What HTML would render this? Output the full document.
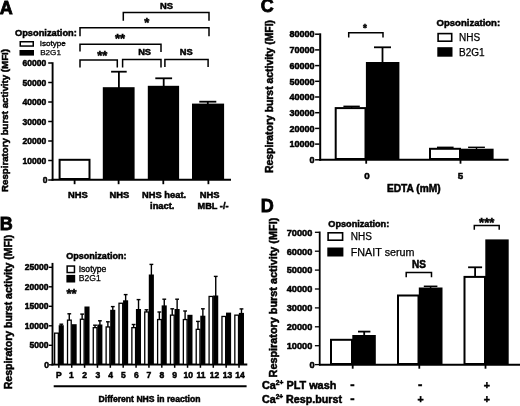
<!DOCTYPE html>
<html lang="en">
<head>
<meta charset="utf-8">
<title>Figure</title>
<style>
html,body{margin:0;padding:0;background:#fff;}
svg{display:block;font-family:"Liberation Sans", Arial, sans-serif;filter:blur(0.45px);}
text{fill:#000;}
text[font-weight=bold]{stroke:#000;stroke-width:0.5px;}
</style>
</head>
<body>
<svg width="520" height="406" viewBox="0 0 520 406">
<rect x="0" y="0" width="520" height="406" fill="#fff"/>
<text x="-0.30" y="13.90" font-size="18" font-weight="bold" text-anchor="start" style="stroke-width:0.8px">A</text>
<text x="15.00" y="35.80" font-size="9.3" font-weight="bold" text-anchor="start" textLength="61.8" lengthAdjust="spacingAndGlyphs">Opsonization:</text>
<rect x="20.25" y="41.75" width="13.00" height="4.30" fill="#fff" stroke="#000" stroke-width="1.5"/>
<rect x="19.50" y="50.00" width="14.50" height="5.60" fill="#000"/>
<text x="39.70" y="46.30" font-size="8.1" font-weight="normal" text-anchor="start" stroke="#000" stroke-width="0.35">Isotype</text>
<text x="40.20" y="55.20" font-size="8.1" font-weight="normal" text-anchor="start" stroke="#000" stroke-width="0.25">B2G1</text>
<text transform="translate(7.70,120.50) rotate(-90)" font-size="9.5" font-weight="bold" text-anchor="middle" textLength="143" lengthAdjust="spacingAndGlyphs">Respiratory burst activity (MFI)</text>
<line x1="52.60" y1="62.20" x2="52.60" y2="180.80" stroke="#000" stroke-width="1.9"/>
<line x1="51.60" y1="179.80" x2="231.00" y2="179.80" stroke="#000" stroke-width="2"/>
<line x1="48.20" y1="180.00" x2="52.00" y2="180.00" stroke="#000" stroke-width="1.5"/>
<text x="47.40" y="183.00" font-size="8.5" font-weight="bold" text-anchor="end">0</text>
<line x1="48.20" y1="160.50" x2="52.00" y2="160.50" stroke="#000" stroke-width="1.5"/>
<text x="46.20" y="163.50" font-size="8.5" font-weight="bold" text-anchor="end">10000</text>
<line x1="48.20" y1="141.00" x2="52.00" y2="141.00" stroke="#000" stroke-width="1.5"/>
<text x="46.20" y="144.00" font-size="8.5" font-weight="bold" text-anchor="end">20000</text>
<line x1="48.20" y1="121.50" x2="52.00" y2="121.50" stroke="#000" stroke-width="1.5"/>
<text x="46.20" y="124.50" font-size="8.5" font-weight="bold" text-anchor="end">30000</text>
<line x1="48.20" y1="102.00" x2="52.00" y2="102.00" stroke="#000" stroke-width="1.5"/>
<text x="46.20" y="105.00" font-size="8.5" font-weight="bold" text-anchor="end">40000</text>
<line x1="48.20" y1="82.50" x2="52.00" y2="82.50" stroke="#000" stroke-width="1.5"/>
<text x="46.20" y="85.50" font-size="8.5" font-weight="bold" text-anchor="end">50000</text>
<line x1="48.20" y1="63.00" x2="52.00" y2="63.00" stroke="#000" stroke-width="1.5"/>
<text x="46.20" y="66.00" font-size="8.5" font-weight="bold" text-anchor="end">60000</text>
<line x1="74.60" y1="180.00" x2="74.60" y2="184.20" stroke="#000" stroke-width="1.8"/>
<line x1="118.60" y1="180.00" x2="118.60" y2="184.20" stroke="#000" stroke-width="1.8"/>
<line x1="163.30" y1="180.00" x2="163.30" y2="184.20" stroke="#000" stroke-width="1.8"/>
<line x1="208.40" y1="180.00" x2="208.40" y2="184.20" stroke="#000" stroke-width="1.8"/>
<rect x="59.60" y="159.80" width="29.90" height="19.20" fill="#fff" stroke="#000" stroke-width="2"/>
<rect x="102.80" y="87.20" width="31.80" height="92.80" fill="#000"/>
<line x1="118.90" y1="71.70" x2="118.90" y2="88.00" stroke="#000" stroke-width="1.8"/>
<line x1="111.10" y1="71.70" x2="126.70" y2="71.70" stroke="#000" stroke-width="1.8"/>
<rect x="147.80" y="85.80" width="31.30" height="94.20" fill="#000"/>
<line x1="163.70" y1="78.30" x2="163.70" y2="87.00" stroke="#000" stroke-width="1.8"/>
<line x1="155.30" y1="78.30" x2="172.10" y2="78.30" stroke="#000" stroke-width="1.8"/>
<rect x="192.00" y="103.60" width="32.10" height="76.40" fill="#000"/>
<line x1="207.80" y1="101.70" x2="207.80" y2="104.00" stroke="#000" stroke-width="1.8"/>
<line x1="199.30" y1="101.70" x2="216.30" y2="101.70" stroke="#000" stroke-width="1.8"/>
<polyline points="123.30,20.80 123.30,12.40 209.00,12.40 209.00,20.80" fill="none" stroke="#000" stroke-width="1.5"/>
<polyline points="80.00,36.20 80.00,27.80 209.00,27.80 209.00,36.20" fill="none" stroke="#000" stroke-width="1.5"/>
<polyline points="80.00,51.40 80.00,44.20 161.00,44.20 161.00,52.00" fill="none" stroke="#000" stroke-width="1.5"/>
<polyline points="80.00,67.60 80.00,60.00 117.30,60.00 117.30,67.60" fill="none" stroke="#000" stroke-width="1.5"/>
<polyline points="122.60,67.40 122.60,59.50 161.00,59.50 161.00,67.40" fill="none" stroke="#000" stroke-width="1.5"/>
<polyline points="164.90,67.00 164.90,59.40 208.10,59.40 208.10,67.00" fill="none" stroke="#000" stroke-width="1.5"/>
<text x="166.50" y="8.80" font-size="9.4" font-weight="bold" text-anchor="middle">NS</text>
<text x="146.80" y="27.20" font-size="13" font-weight="bold" text-anchor="middle">*</text>
<text x="120.00" y="43.20" font-size="13" font-weight="bold" text-anchor="middle">**</text>
<text x="102.20" y="60.00" font-size="13" font-weight="bold" text-anchor="middle">**</text>
<text x="144.60" y="54.80" font-size="9.3" font-weight="bold" text-anchor="middle">NS</text>
<text x="186.20" y="55.00" font-size="9.3" font-weight="bold" text-anchor="middle">NS</text>
<text x="77.80" y="197.60" font-size="9.4" font-weight="bold" text-anchor="middle">NHS</text>
<text x="119.30" y="197.60" font-size="9.4" font-weight="bold" text-anchor="middle">NHS</text>
<text x="164.10" y="197.60" font-size="9.4" font-weight="bold" text-anchor="middle" textLength="44" lengthAdjust="spacingAndGlyphs">NHS heat.</text>
<text x="162.20" y="208.90" font-size="9.3" font-weight="bold" text-anchor="middle">inact.</text>
<text x="209.60" y="197.60" font-size="9.4" font-weight="bold" text-anchor="middle">NHS</text>
<text x="213.00" y="208.90" font-size="9.3" font-weight="bold" text-anchor="middle" textLength="31" lengthAdjust="spacingAndGlyphs">MBL -/-</text>
<text x="-0.30" y="230.10" font-size="18" font-weight="bold" text-anchor="start" style="stroke-width:0.8px">B</text>
<text transform="translate(11.90,312.00) rotate(-90)" font-size="10" font-weight="bold" text-anchor="middle" textLength="154.5" lengthAdjust="spacingAndGlyphs">Respiratory burst activity (MFI)</text>
<text x="66.20" y="258.60" font-size="9.3" font-weight="bold" text-anchor="start" textLength="60.3" lengthAdjust="spacingAndGlyphs">Opsonization:</text>
<rect x="67.15" y="266.05" width="7.30" height="6.50" fill="#fff" stroke="#000" stroke-width="1.5"/>
<rect x="66.40" y="274.90" width="8.80" height="7.60" fill="#000"/>
<text x="78.70" y="271.60" font-size="8.6" font-weight="normal" text-anchor="start" stroke="#000" stroke-width="0.35">Isotype</text>
<text x="78.70" y="281.40" font-size="8.6" font-weight="normal" text-anchor="start" stroke="#000" stroke-width="0.25">B2G1</text>
<text x="66.40" y="298.30" font-size="13" font-weight="bold" text-anchor="start">**</text>
<line x1="52.50" y1="262.90" x2="52.50" y2="365.50" stroke="#000" stroke-width="1.9"/>
<line x1="51.60" y1="364.60" x2="247.30" y2="364.60" stroke="#000" stroke-width="2"/>
<line x1="48.80" y1="364.80" x2="52.00" y2="364.80" stroke="#000" stroke-width="1.4"/>
<text x="49.10" y="367.80" font-size="8.5" font-weight="bold" text-anchor="end">0</text>
<line x1="48.80" y1="345.30" x2="52.00" y2="345.30" stroke="#000" stroke-width="1.4"/>
<text x="48.40" y="348.30" font-size="8.5" font-weight="bold" text-anchor="end">5000</text>
<line x1="48.80" y1="325.80" x2="52.00" y2="325.80" stroke="#000" stroke-width="1.4"/>
<text x="48.40" y="328.80" font-size="8.5" font-weight="bold" text-anchor="end">10000</text>
<line x1="48.80" y1="306.30" x2="52.00" y2="306.30" stroke="#000" stroke-width="1.4"/>
<text x="48.40" y="309.30" font-size="8.5" font-weight="bold" text-anchor="end">15000</text>
<line x1="48.80" y1="286.80" x2="52.00" y2="286.80" stroke="#000" stroke-width="1.4"/>
<text x="48.40" y="289.80" font-size="8.5" font-weight="bold" text-anchor="end">20000</text>
<line x1="48.80" y1="267.30" x2="52.00" y2="267.30" stroke="#000" stroke-width="1.4"/>
<text x="48.40" y="270.30" font-size="8.5" font-weight="bold" text-anchor="end">25000</text>
<line x1="61.30" y1="324.20" x2="61.30" y2="326.20" stroke="#000" stroke-width="1.4"/>
<line x1="59.40" y1="324.20" x2="63.20" y2="324.20" stroke="#000" stroke-width="1.4"/>
<rect x="54.65" y="333.15" width="3.70" height="31.20" fill="#fff" stroke="#000" stroke-width="1.3"/>
<rect x="58.70" y="325.20" width="5.10" height="39.80" fill="#000"/>
<line x1="58.85" y1="364.60" x2="58.85" y2="367.80" stroke="#000" stroke-width="1.5"/>
<text x="58.90" y="377.60" font-size="8.5" font-weight="bold" text-anchor="middle">P</text>
<line x1="69.27" y1="313.80" x2="69.27" y2="320.50" stroke="#000" stroke-width="1.4"/>
<line x1="67.37" y1="313.80" x2="71.17" y2="313.80" stroke="#000" stroke-width="1.4"/>
<rect x="67.52" y="320.15" width="3.70" height="44.20" fill="#fff" stroke="#000" stroke-width="1.3"/>
<rect x="71.57" y="324.20" width="5.10" height="40.80" fill="#000"/>
<line x1="71.72" y1="364.60" x2="71.72" y2="367.80" stroke="#000" stroke-width="1.5"/>
<text x="71.30" y="377.60" font-size="8.5" font-weight="bold" text-anchor="middle">1</text>
<line x1="82.14" y1="314.10" x2="82.14" y2="319.60" stroke="#000" stroke-width="1.4"/>
<line x1="80.24" y1="314.10" x2="84.04" y2="314.10" stroke="#000" stroke-width="1.4"/>
<rect x="80.39" y="319.25" width="3.70" height="45.10" fill="#fff" stroke="#000" stroke-width="1.3"/>
<rect x="84.44" y="306.50" width="5.10" height="58.50" fill="#000"/>
<line x1="84.59" y1="364.60" x2="84.59" y2="367.80" stroke="#000" stroke-width="1.5"/>
<text x="84.60" y="377.60" font-size="8.5" font-weight="bold" text-anchor="middle">2</text>
<line x1="95.01" y1="325.20" x2="95.01" y2="328.00" stroke="#000" stroke-width="1.4"/>
<line x1="93.11" y1="325.20" x2="96.91" y2="325.20" stroke="#000" stroke-width="1.4"/>
<line x1="99.91" y1="320.80" x2="99.91" y2="325.50" stroke="#000" stroke-width="1.4"/>
<line x1="98.01" y1="320.80" x2="101.81" y2="320.80" stroke="#000" stroke-width="1.4"/>
<rect x="93.26" y="327.65" width="3.70" height="36.70" fill="#fff" stroke="#000" stroke-width="1.3"/>
<rect x="97.31" y="324.50" width="5.10" height="40.50" fill="#000"/>
<line x1="97.46" y1="364.60" x2="97.46" y2="367.80" stroke="#000" stroke-width="1.5"/>
<text x="97.80" y="377.60" font-size="8.5" font-weight="bold" text-anchor="middle">3</text>
<line x1="107.88" y1="321.80" x2="107.88" y2="327.30" stroke="#000" stroke-width="1.4"/>
<line x1="105.98" y1="321.80" x2="109.78" y2="321.80" stroke="#000" stroke-width="1.4"/>
<line x1="112.78" y1="306.60" x2="112.78" y2="310.80" stroke="#000" stroke-width="1.4"/>
<line x1="110.88" y1="306.60" x2="114.68" y2="306.60" stroke="#000" stroke-width="1.4"/>
<rect x="106.13" y="326.95" width="3.70" height="37.40" fill="#fff" stroke="#000" stroke-width="1.3"/>
<rect x="110.18" y="309.80" width="5.10" height="55.20" fill="#000"/>
<line x1="110.33" y1="364.60" x2="110.33" y2="367.80" stroke="#000" stroke-width="1.5"/>
<text x="110.50" y="377.60" font-size="8.5" font-weight="bold" text-anchor="middle">4</text>
<line x1="125.65" y1="294.60" x2="125.65" y2="301.30" stroke="#000" stroke-width="1.4"/>
<line x1="123.75" y1="294.60" x2="127.55" y2="294.60" stroke="#000" stroke-width="1.4"/>
<rect x="119.00" y="303.25" width="3.70" height="61.10" fill="#fff" stroke="#000" stroke-width="1.3"/>
<rect x="123.05" y="300.30" width="5.10" height="64.70" fill="#000"/>
<line x1="123.20" y1="364.60" x2="123.20" y2="367.80" stroke="#000" stroke-width="1.5"/>
<text x="123.40" y="377.60" font-size="8.5" font-weight="bold" text-anchor="middle">5</text>
<line x1="133.62" y1="324.50" x2="133.62" y2="328.00" stroke="#000" stroke-width="1.4"/>
<line x1="131.72" y1="324.50" x2="135.52" y2="324.50" stroke="#000" stroke-width="1.4"/>
<line x1="138.52" y1="299.60" x2="138.52" y2="310.00" stroke="#000" stroke-width="1.4"/>
<line x1="136.62" y1="299.60" x2="140.42" y2="299.60" stroke="#000" stroke-width="1.4"/>
<rect x="131.87" y="327.65" width="3.70" height="36.70" fill="#fff" stroke="#000" stroke-width="1.3"/>
<rect x="135.92" y="309.00" width="5.10" height="56.00" fill="#000"/>
<line x1="136.07" y1="364.60" x2="136.07" y2="367.80" stroke="#000" stroke-width="1.5"/>
<text x="136.30" y="377.60" font-size="8.5" font-weight="bold" text-anchor="middle">6</text>
<line x1="146.49" y1="309.80" x2="146.49" y2="312.30" stroke="#000" stroke-width="1.4"/>
<line x1="144.59" y1="309.80" x2="148.39" y2="309.80" stroke="#000" stroke-width="1.4"/>
<line x1="151.39" y1="264.40" x2="151.39" y2="275.50" stroke="#000" stroke-width="1.4"/>
<line x1="149.49" y1="264.40" x2="153.29" y2="264.40" stroke="#000" stroke-width="1.4"/>
<rect x="144.74" y="311.95" width="3.70" height="52.40" fill="#fff" stroke="#000" stroke-width="1.3"/>
<rect x="148.79" y="274.50" width="5.10" height="90.50" fill="#000"/>
<line x1="148.94" y1="364.60" x2="148.94" y2="367.80" stroke="#000" stroke-width="1.5"/>
<text x="148.80" y="377.60" font-size="8.5" font-weight="bold" text-anchor="middle">7</text>
<line x1="159.36" y1="312.00" x2="159.36" y2="319.90" stroke="#000" stroke-width="1.4"/>
<line x1="157.46" y1="312.00" x2="161.26" y2="312.00" stroke="#000" stroke-width="1.4"/>
<line x1="164.26" y1="299.20" x2="164.26" y2="306.40" stroke="#000" stroke-width="1.4"/>
<line x1="162.36" y1="299.20" x2="166.16" y2="299.20" stroke="#000" stroke-width="1.4"/>
<rect x="157.61" y="319.55" width="3.70" height="44.80" fill="#fff" stroke="#000" stroke-width="1.3"/>
<rect x="161.66" y="305.40" width="5.10" height="59.60" fill="#000"/>
<line x1="161.81" y1="364.60" x2="161.81" y2="367.80" stroke="#000" stroke-width="1.5"/>
<text x="161.90" y="377.60" font-size="8.5" font-weight="bold" text-anchor="middle">8</text>
<line x1="172.23" y1="308.80" x2="172.23" y2="315.50" stroke="#000" stroke-width="1.4"/>
<line x1="170.33" y1="308.80" x2="174.13" y2="308.80" stroke="#000" stroke-width="1.4"/>
<line x1="177.13" y1="299.20" x2="177.13" y2="310.00" stroke="#000" stroke-width="1.4"/>
<line x1="175.23" y1="299.20" x2="179.03" y2="299.20" stroke="#000" stroke-width="1.4"/>
<rect x="170.48" y="315.15" width="3.70" height="49.20" fill="#fff" stroke="#000" stroke-width="1.3"/>
<rect x="174.53" y="309.00" width="5.10" height="56.00" fill="#000"/>
<line x1="174.68" y1="364.60" x2="174.68" y2="367.80" stroke="#000" stroke-width="1.5"/>
<text x="174.60" y="377.60" font-size="8.5" font-weight="bold" text-anchor="middle">9</text>
<line x1="185.10" y1="311.00" x2="185.10" y2="319.90" stroke="#000" stroke-width="1.4"/>
<line x1="183.20" y1="311.00" x2="187.00" y2="311.00" stroke="#000" stroke-width="1.4"/>
<rect x="183.35" y="319.55" width="3.70" height="44.80" fill="#fff" stroke="#000" stroke-width="1.3"/>
<rect x="187.40" y="314.80" width="5.10" height="50.20" fill="#000"/>
<line x1="187.55" y1="364.60" x2="187.55" y2="367.80" stroke="#000" stroke-width="1.5"/>
<text x="188.20" y="377.60" font-size="8.5" font-weight="bold" text-anchor="middle">10</text>
<line x1="197.97" y1="321.40" x2="197.97" y2="329.70" stroke="#000" stroke-width="1.4"/>
<line x1="196.07" y1="321.40" x2="199.87" y2="321.40" stroke="#000" stroke-width="1.4"/>
<line x1="202.87" y1="308.80" x2="202.87" y2="316.70" stroke="#000" stroke-width="1.4"/>
<line x1="200.97" y1="308.80" x2="204.77" y2="308.80" stroke="#000" stroke-width="1.4"/>
<rect x="196.22" y="329.35" width="3.70" height="35.00" fill="#fff" stroke="#000" stroke-width="1.3"/>
<rect x="200.27" y="315.70" width="5.10" height="49.30" fill="#000"/>
<line x1="200.42" y1="364.60" x2="200.42" y2="367.80" stroke="#000" stroke-width="1.5"/>
<text x="201.10" y="377.60" font-size="8.5" font-weight="bold" text-anchor="middle">11</text>
<line x1="215.74" y1="276.40" x2="215.74" y2="296.50" stroke="#000" stroke-width="1.4"/>
<line x1="213.84" y1="276.40" x2="217.64" y2="276.40" stroke="#000" stroke-width="1.4"/>
<rect x="209.09" y="296.45" width="3.70" height="67.90" fill="#fff" stroke="#000" stroke-width="1.3"/>
<rect x="213.14" y="295.50" width="5.10" height="69.50" fill="#000"/>
<line x1="213.29" y1="364.60" x2="213.29" y2="367.80" stroke="#000" stroke-width="1.5"/>
<text x="214.60" y="377.60" font-size="8.5" font-weight="bold" text-anchor="middle">12</text>
<rect x="221.96" y="316.45" width="3.70" height="47.90" fill="#fff" stroke="#000" stroke-width="1.3"/>
<rect x="226.01" y="312.60" width="5.10" height="52.40" fill="#000"/>
<line x1="226.16" y1="364.60" x2="226.16" y2="367.80" stroke="#000" stroke-width="1.5"/>
<text x="227.50" y="377.60" font-size="8.5" font-weight="bold" text-anchor="middle">13</text>
<line x1="241.48" y1="308.90" x2="241.48" y2="313.90" stroke="#000" stroke-width="1.4"/>
<line x1="239.58" y1="308.90" x2="243.38" y2="308.90" stroke="#000" stroke-width="1.4"/>
<rect x="234.83" y="315.15" width="3.70" height="49.20" fill="#fff" stroke="#000" stroke-width="1.3"/>
<rect x="238.88" y="312.90" width="5.10" height="52.10" fill="#000"/>
<line x1="239.03" y1="364.60" x2="239.03" y2="367.80" stroke="#000" stroke-width="1.5"/>
<text x="240.00" y="377.60" font-size="8.5" font-weight="bold" text-anchor="middle">14</text>
<line x1="53.70" y1="386.30" x2="246.60" y2="386.30" stroke="#000" stroke-width="1.9"/>
<text x="98.60" y="401.90" font-size="8.8" font-weight="bold" text-anchor="start" textLength="101.9" lengthAdjust="spacingAndGlyphs">Different NHS in reaction</text>
<text x="260.80" y="12.40" font-size="18" font-weight="bold" text-anchor="start" style="stroke-width:0.8px">C</text>
<text transform="translate(273.20,96.50) rotate(-90)" font-size="10" font-weight="bold" text-anchor="middle" textLength="153" lengthAdjust="spacingAndGlyphs">Respiratory burst activity (MFI)</text>
<line x1="320.20" y1="33.30" x2="320.20" y2="160.80" stroke="#000" stroke-width="2.0"/>
<line x1="319.10" y1="159.70" x2="508.60" y2="159.70" stroke="#000" stroke-width="2"/>
<line x1="315.10" y1="159.80" x2="319.50" y2="159.80" stroke="#000" stroke-width="1.5"/>
<text x="314.60" y="163.00" font-size="9" font-weight="bold" text-anchor="end">0</text>
<line x1="315.10" y1="144.10" x2="319.50" y2="144.10" stroke="#000" stroke-width="1.5"/>
<text x="314.60" y="147.30" font-size="9" font-weight="bold" text-anchor="end">10000</text>
<line x1="315.10" y1="128.40" x2="319.50" y2="128.40" stroke="#000" stroke-width="1.5"/>
<text x="314.60" y="131.60" font-size="9" font-weight="bold" text-anchor="end">20000</text>
<line x1="315.10" y1="112.70" x2="319.50" y2="112.70" stroke="#000" stroke-width="1.5"/>
<text x="314.60" y="115.90" font-size="9" font-weight="bold" text-anchor="end">30000</text>
<line x1="315.10" y1="97.00" x2="319.50" y2="97.00" stroke="#000" stroke-width="1.5"/>
<text x="314.60" y="100.20" font-size="9" font-weight="bold" text-anchor="end">40000</text>
<line x1="315.10" y1="81.30" x2="319.50" y2="81.30" stroke="#000" stroke-width="1.5"/>
<text x="314.60" y="84.50" font-size="9" font-weight="bold" text-anchor="end">50000</text>
<line x1="315.10" y1="65.60" x2="319.50" y2="65.60" stroke="#000" stroke-width="1.5"/>
<text x="314.60" y="68.80" font-size="9" font-weight="bold" text-anchor="end">60000</text>
<line x1="315.10" y1="49.90" x2="319.50" y2="49.90" stroke="#000" stroke-width="1.5"/>
<text x="314.60" y="53.10" font-size="9" font-weight="bold" text-anchor="end">70000</text>
<line x1="315.10" y1="34.20" x2="319.50" y2="34.20" stroke="#000" stroke-width="1.5"/>
<text x="314.60" y="37.40" font-size="9" font-weight="bold" text-anchor="end">80000</text>
<line x1="366.20" y1="160.00" x2="366.20" y2="163.70" stroke="#000" stroke-width="1.8"/>
<line x1="460.50" y1="160.00" x2="460.50" y2="163.70" stroke="#000" stroke-width="1.8"/>
<line x1="351.60" y1="106.30" x2="351.60" y2="108.00" stroke="#000" stroke-width="1.4"/>
<line x1="343.40" y1="106.30" x2="359.80" y2="106.30" stroke="#000" stroke-width="1.4"/>
<rect x="335.70" y="108.10" width="29.80" height="50.90" fill="#fff" stroke="#000" stroke-width="2"/>
<rect x="365.90" y="62.00" width="33.50" height="98.00" fill="#000"/>
<line x1="382.50" y1="47.30" x2="382.50" y2="63.00" stroke="#000" stroke-width="1.8"/>
<line x1="374.00" y1="47.30" x2="391.00" y2="47.30" stroke="#000" stroke-width="1.8"/>
<line x1="445.30" y1="147.30" x2="445.30" y2="148.50" stroke="#000" stroke-width="1.4"/>
<line x1="437.00" y1="147.30" x2="453.60" y2="147.30" stroke="#000" stroke-width="1.4"/>
<rect x="430.00" y="148.80" width="30.00" height="10.20" fill="#fff" stroke="#000" stroke-width="2"/>
<rect x="460.20" y="148.70" width="33.40" height="11.30" fill="#000"/>
<line x1="476.50" y1="147.30" x2="476.50" y2="149.00" stroke="#000" stroke-width="1.4"/>
<line x1="468.10" y1="147.30" x2="484.90" y2="147.30" stroke="#000" stroke-width="1.4"/>
<polyline points="348.70,37.50 348.70,32.80 383.00,32.80 383.00,37.50" fill="none" stroke="#000" stroke-width="1.5"/>
<text x="365.00" y="32.40" font-size="10" font-weight="bold" text-anchor="middle">*</text>
<text x="367.00" y="178.50" font-size="9.8" font-weight="bold" text-anchor="middle">0</text>
<text x="460.60" y="178.50" font-size="9.8" font-weight="bold" text-anchor="middle">5</text>
<text x="386.90" y="191.90" font-size="10" font-weight="bold" text-anchor="start" textLength="53.7" lengthAdjust="spacingAndGlyphs">EDTA (mM)</text>
<text x="436.60" y="25.90" font-size="9.5" font-weight="bold" text-anchor="start" textLength="63.5" lengthAdjust="spacingAndGlyphs">Opsonization:</text>
<rect x="438.10" y="33.60" width="13.60" height="7.60" fill="#fff" stroke="#000" stroke-width="1.6"/>
<rect x="437.30" y="47.20" width="15.20" height="9.50" fill="#000"/>
<text x="459.10" y="41.20" font-size="10" font-weight="normal" text-anchor="start" stroke="#000" stroke-width="0.25">NHS</text>
<text x="459.10" y="55.90" font-size="10" font-weight="normal" text-anchor="start" stroke="#000" stroke-width="0.25">B2G1</text>
<text x="260.80" y="212.00" font-size="18" font-weight="bold" text-anchor="start" style="stroke-width:0.8px">D</text>
<text transform="translate(276.50,297.60) rotate(-90)" font-size="10.3" font-weight="bold" text-anchor="middle" textLength="159.7" lengthAdjust="spacingAndGlyphs">Respiratory burst activity (MFI)</text>
<line x1="319.70" y1="231.50" x2="319.70" y2="365.40" stroke="#000" stroke-width="1.8"/>
<line x1="319.00" y1="364.80" x2="520.00" y2="364.80" stroke="#000" stroke-width="2"/>
<line x1="314.90" y1="364.60" x2="319.20" y2="364.60" stroke="#000" stroke-width="1.3"/>
<text x="314.50" y="367.90" font-size="9.2" font-weight="bold" text-anchor="end">0</text>
<line x1="314.90" y1="345.70" x2="319.20" y2="345.70" stroke="#000" stroke-width="1.3"/>
<text x="312.30" y="349.00" font-size="9.2" font-weight="bold" text-anchor="end">10000</text>
<line x1="314.90" y1="326.80" x2="319.20" y2="326.80" stroke="#000" stroke-width="1.3"/>
<text x="312.30" y="330.10" font-size="9.2" font-weight="bold" text-anchor="end">20000</text>
<line x1="314.90" y1="307.90" x2="319.20" y2="307.90" stroke="#000" stroke-width="1.3"/>
<text x="312.30" y="311.20" font-size="9.2" font-weight="bold" text-anchor="end">30000</text>
<line x1="314.90" y1="289.00" x2="319.20" y2="289.00" stroke="#000" stroke-width="1.3"/>
<text x="312.30" y="292.30" font-size="9.2" font-weight="bold" text-anchor="end">40000</text>
<line x1="314.90" y1="270.10" x2="319.20" y2="270.10" stroke="#000" stroke-width="1.3"/>
<text x="312.30" y="273.40" font-size="9.2" font-weight="bold" text-anchor="end">50000</text>
<line x1="314.90" y1="251.20" x2="319.20" y2="251.20" stroke="#000" stroke-width="1.3"/>
<text x="312.30" y="254.50" font-size="9.2" font-weight="bold" text-anchor="end">60000</text>
<line x1="314.90" y1="232.30" x2="319.20" y2="232.30" stroke="#000" stroke-width="1.3"/>
<text x="312.30" y="235.60" font-size="9.2" font-weight="bold" text-anchor="end">70000</text>
<line x1="352.70" y1="364.60" x2="352.70" y2="368.70" stroke="#000" stroke-width="1.8"/>
<line x1="419.30" y1="364.60" x2="419.30" y2="368.70" stroke="#000" stroke-width="1.8"/>
<line x1="485.50" y1="364.60" x2="485.50" y2="368.70" stroke="#000" stroke-width="1.8"/>
<rect x="331.00" y="339.80" width="21.00" height="24.20" fill="#fff" stroke="#000" stroke-width="2"/>
<rect x="352.30" y="335.00" width="23.50" height="30.00" fill="#000"/>
<line x1="364.20" y1="331.60" x2="364.20" y2="336.00" stroke="#000" stroke-width="1.8"/>
<line x1="358.00" y1="331.60" x2="370.40" y2="331.60" stroke="#000" stroke-width="1.8"/>
<rect x="398.00" y="295.50" width="20.50" height="68.50" fill="#fff" stroke="#000" stroke-width="2"/>
<rect x="418.80" y="287.50" width="23.70" height="77.50" fill="#000"/>
<line x1="430.60" y1="286.30" x2="430.60" y2="288.00" stroke="#000" stroke-width="1.5"/>
<line x1="423.80" y1="286.30" x2="437.40" y2="286.30" stroke="#000" stroke-width="1.5"/>
<line x1="475.10" y1="267.30" x2="475.10" y2="277.00" stroke="#000" stroke-width="1.8"/>
<line x1="468.10" y1="267.30" x2="482.10" y2="267.30" stroke="#000" stroke-width="1.8"/>
<rect x="464.50" y="276.90" width="20.50" height="87.10" fill="#fff" stroke="#000" stroke-width="2"/>
<rect x="485.30" y="239.40" width="23.40" height="125.60" fill="#000"/>
<polyline points="406.20,277.30 406.20,272.60 431.50,272.60 431.50,277.30" fill="none" stroke="#000" stroke-width="1.5"/>
<text x="419.00" y="267.60" font-size="10" font-weight="bold" text-anchor="middle">NS</text>
<polyline points="474.30,229.80 474.30,225.50 499.20,225.50 499.20,229.80" fill="none" stroke="#000" stroke-width="1.5"/>
<text x="486.70" y="226.60" font-size="13" font-weight="bold" text-anchor="middle">***</text>
<text x="328.30" y="227.00" font-size="9.1" font-weight="bold" text-anchor="start" textLength="60.9" lengthAdjust="spacingAndGlyphs">Opsonization:</text>
<rect x="328.10" y="232.80" width="14.50" height="7.40" fill="#fff" stroke="#000" stroke-width="1.6"/>
<rect x="327.30" y="247.50" width="16.10" height="9.00" fill="#000"/>
<text x="350.80" y="240.20" font-size="10" font-weight="normal" text-anchor="start" stroke="#000" stroke-width="0.25">NHS</text>
<text x="350.80" y="255.70" font-size="10.4" font-weight="normal" text-anchor="start" textLength="63.7" lengthAdjust="spacingAndGlyphs" stroke="#000" stroke-width="0.25">FNAIT serum</text>
<text x="262.00" y="388.80" font-size="10.3" font-weight="bold" text-anchor="start" textLength="74.3" lengthAdjust="spacingAndGlyphs">Ca<tspan font-size="6.3" dy="-3.6">2+</tspan><tspan dy="3.6"> </tspan>PLT wash</text>
<text x="262.00" y="403.00" font-size="10.3" font-weight="bold" text-anchor="start" textLength="80" lengthAdjust="spacingAndGlyphs">Ca<tspan font-size="6.3" dy="-3.6">2+</tspan><tspan dy="3.6"> </tspan>Resp.burst</text>
<text x="352.50" y="389.40" font-size="13" font-weight="bold" text-anchor="middle">-</text>
<text x="352.50" y="403.40" font-size="13" font-weight="bold" text-anchor="middle">-</text>
<text x="420.20" y="389.40" font-size="13" font-weight="bold" text-anchor="middle">-</text>
<text x="420.60" y="403.40" font-size="10.5" font-weight="bold" text-anchor="middle">+</text>
<text x="486.90" y="388.80" font-size="10.5" font-weight="bold" text-anchor="middle">+</text>
<text x="486.90" y="403.40" font-size="10.5" font-weight="bold" text-anchor="middle">+</text>
</svg>
</body>
</html>
